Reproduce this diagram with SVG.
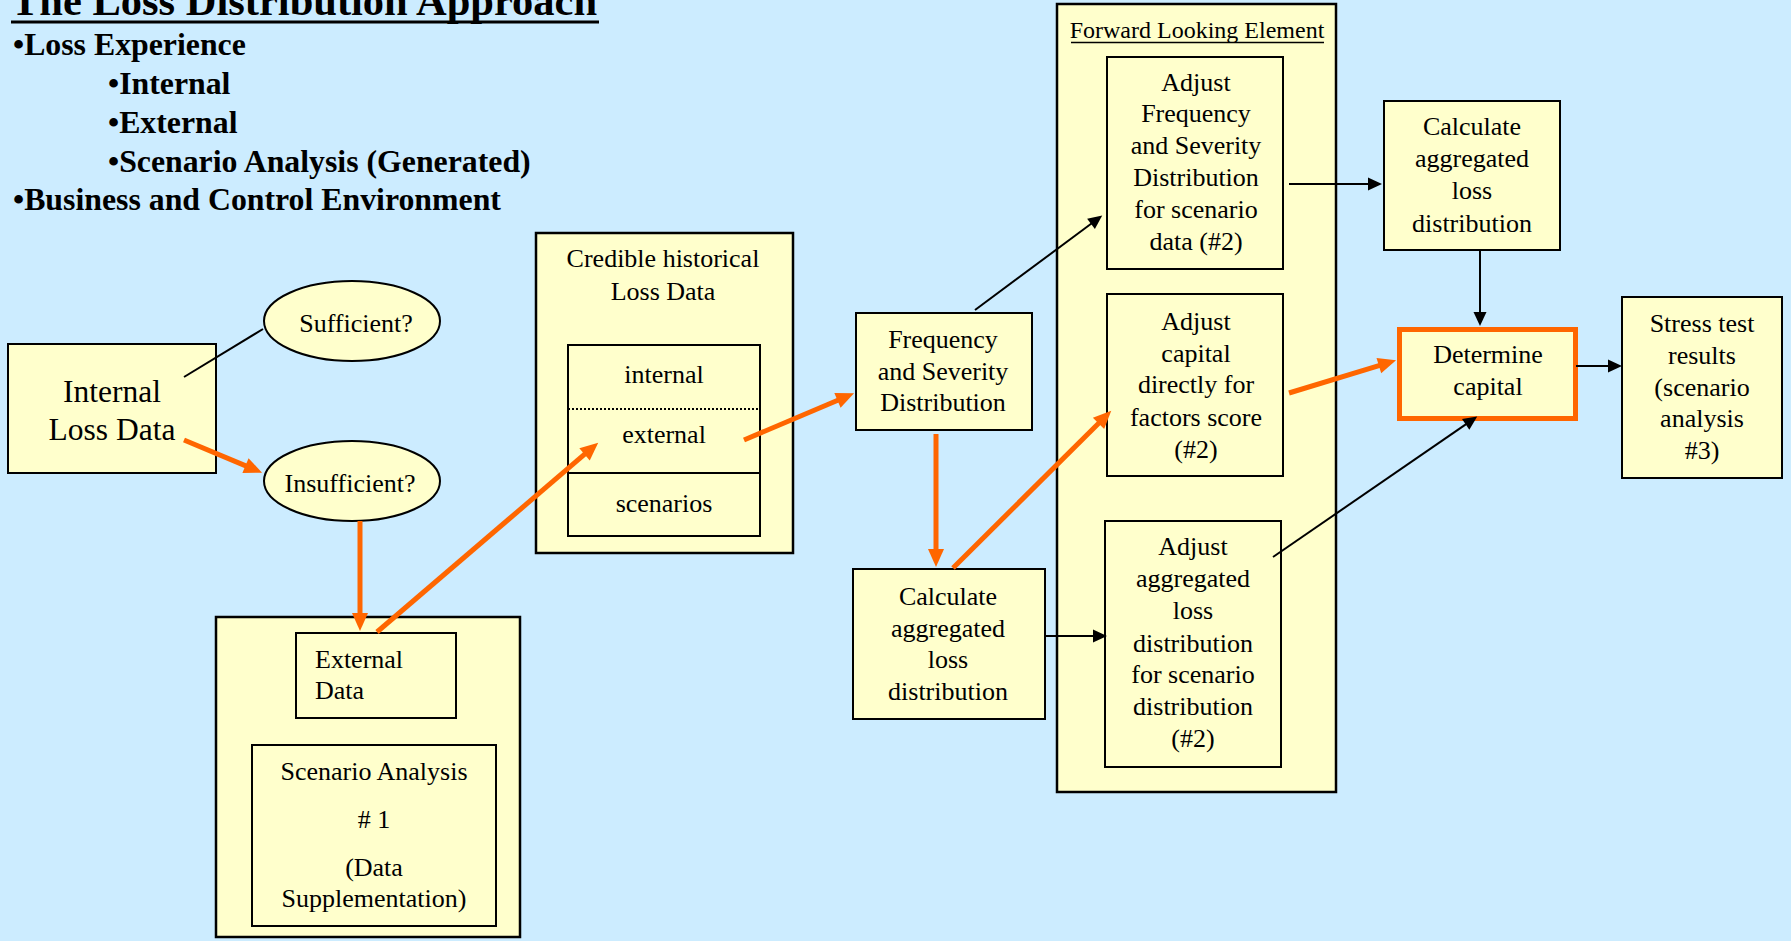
<svg xmlns="http://www.w3.org/2000/svg" width="1791" height="941" viewBox="0 0 1791 941">
  <style>
    text { font-family: "Liberation Serif", "Times New Roman", serif; fill: #000; }
    .node { fill: #FFFFCC; stroke: #000; stroke-width: 2; }
    .frame { fill: #FFFFCC; stroke: #000; stroke-width: 2.5; }
    .lbl { font-size: 26px; text-anchor: middle; }
    .bullet { font-size: 31.8px; font-weight: bold; }
    .flow { stroke: #FF6600; stroke-width: 5; fill: none; }
    .link { stroke: #000; stroke-width: 2; fill: none; }
  </style>
  <defs>
    <marker id="head-orange" markerUnits="userSpaceOnUse" markerWidth="20" markerHeight="18" viewBox="0 -9 20 18" refX="1" refY="0" orient="auto" overflow="visible">
      <path d="M0,-8 L18,0 L0,8 z" fill="#FF6600"/>
    </marker>
    <marker id="head-black" markerUnits="userSpaceOnUse" markerWidth="16" markerHeight="14" viewBox="0 -7 16 14" refX="1" refY="0" orient="auto" overflow="visible">
      <path d="M0,-6.5 L14,0 L0,6.5 z" fill="#000"/>
    </marker>
  </defs>

  <!-- page background -->
  <rect x="0" y="0" width="1791" height="941" fill="#CCECFF"/>

  <!-- heading and bullet list -->
  <g id="heading">
    <text x="11" y="15" font-size="42.5" font-weight="bold">The Loss Distribution Approach</text>
    <line x1="11" y1="22" x2="599" y2="22" stroke="#000" stroke-width="3"/>
    <text class="bullet" x="13" y="55">•Loss Experience</text>
    <text class="bullet" x="108" y="94">•Internal</text>
    <text class="bullet" x="108" y="133">•External</text>
    <text class="bullet" x="108" y="172">•Scenario Analysis (Generated)</text>
    <text class="bullet" x="13" y="210">•Business and Control Environment</text>
  </g>

  <!-- containers -->
  <g id="supplement-frame">
    <rect class="frame" x="216" y="617" width="304" height="320"/>
  </g>
  <g id="credible-data">
    <rect class="frame" x="536" y="233" width="257" height="320"/>
    <text class="lbl" x="663" y="267">Credible historical</text>
    <text class="lbl" x="663" y="300">Loss Data</text>
    <rect class="node" x="568" y="345" width="192" height="191"/>
    <line x1="568" y1="409" x2="760" y2="409" stroke="#000" stroke-width="2" stroke-dasharray="2 2"/>
    <line x1="568" y1="473" x2="760" y2="473" stroke="#000" stroke-width="2"/>
    <text class="lbl" x="664" y="383">internal</text>
    <text class="lbl" x="664" y="443">external</text>
    <text class="lbl" x="664" y="512">scenarios</text>
  </g>
  <g id="forward-looking">
    <rect class="frame" x="1057" y="4" width="279" height="788"/>
    <text x="1197" y="38" font-size="24" text-anchor="middle">Forward Looking Element</text>
    <line x1="1071" y1="42.5" x2="1324" y2="42.5" stroke="#000" stroke-width="1.5"/>
  </g>

  <!-- nodes -->
  <g id="internal-loss-data">
    <rect class="node" x="8" y="344" width="208" height="129"/>
    <text x="112" y="402" font-size="31.5" text-anchor="middle">Internal</text>
    <text x="112" y="440" font-size="31.5" text-anchor="middle">Loss Data</text>
  </g>
  <g id="sufficient">
    <ellipse class="node" cx="352" cy="321" rx="88" ry="40"/>
    <text class="lbl" x="356" y="332">Sufficient?</text>
  </g>
  <g id="insufficient">
    <ellipse class="node" cx="352" cy="481" rx="88" ry="40"/>
    <text class="lbl" x="350" y="492">Insufficient?</text>
  </g>
  <g id="external-data">
    <rect class="node" x="296" y="633" width="160" height="85"/>
    <text x="315" y="668" font-size="26">External</text>
    <text x="315" y="699" font-size="26">Data</text>
  </g>
  <g id="scenario-analysis-1">
    <rect class="node" x="252" y="745" width="244" height="181"/>
    <text class="lbl" x="374" y="780">Scenario Analysis</text>
    <text class="lbl" x="374" y="828"># 1</text>
    <text class="lbl" x="374" y="876">(Data</text>
    <text class="lbl" x="374" y="907">Supplementation)</text>
  </g>
  <g id="frequency-severity">
    <rect class="node" x="856" y="313" width="176" height="117"/>
    <text class="lbl" x="943" y="348">Frequency</text>
    <text class="lbl" x="943" y="380">and Severity</text>
    <text class="lbl" x="943" y="411">Distribution</text>
  </g>
  <g id="calc-aggregated-base">
    <rect class="node" x="853" y="569" width="192" height="150"/>
    <text class="lbl" x="948" y="605">Calculate</text>
    <text class="lbl" x="948" y="637">aggregated</text>
    <text class="lbl" x="948" y="668">loss</text>
    <text class="lbl" x="948" y="700">distribution</text>
  </g>
  <g id="adjust-frequency">
    <rect class="node" x="1107" y="57" width="176" height="212"/>
    <text class="lbl" x="1196" y="91">Adjust</text>
    <text class="lbl" x="1196" y="122">Frequency</text>
    <text class="lbl" x="1196" y="154">and Severity</text>
    <text class="lbl" x="1196" y="186">Distribution</text>
    <text class="lbl" x="1196" y="218">for scenario</text>
    <text class="lbl" x="1196" y="250">data (#2)</text>
  </g>
  <g id="adjust-capital">
    <rect class="node" x="1107" y="294" width="176" height="182"/>
    <text class="lbl" x="1196" y="330">Adjust</text>
    <text class="lbl" x="1196" y="362">capital</text>
    <text class="lbl" x="1196" y="393">directly for</text>
    <text class="lbl" x="1196" y="426">factors score</text>
    <text class="lbl" x="1196" y="458">(#2)</text>
  </g>
  <g id="adjust-aggregated">
    <rect class="node" x="1105" y="521" width="176" height="246"/>
    <text class="lbl" x="1193" y="555">Adjust</text>
    <text class="lbl" x="1193" y="587">aggregated</text>
    <text class="lbl" x="1193" y="619">loss</text>
    <text class="lbl" x="1193" y="652">distribution</text>
    <text class="lbl" x="1193" y="683">for scenario</text>
    <text class="lbl" x="1193" y="715">distribution</text>
    <text class="lbl" x="1193" y="747">(#2)</text>
  </g>
  <g id="calc-aggregated-scenario">
    <rect class="node" x="1384" y="101" width="176" height="149"/>
    <text class="lbl" x="1472" y="135">Calculate</text>
    <text class="lbl" x="1472" y="167">aggregated</text>
    <text class="lbl" x="1472" y="199">loss</text>
    <text class="lbl" x="1472" y="232">distribution</text>
  </g>
  <g id="determine-capital">
    <rect x="1399.5" y="329.5" width="176" height="89" fill="#FFFFCC" stroke="#FF6600" stroke-width="5"/>
    <text class="lbl" x="1488" y="363">Determine</text>
    <text class="lbl" x="1488" y="395">capital</text>
  </g>
  <g id="stress-test">
    <rect class="node" x="1622" y="297" width="160" height="181"/>
    <text class="lbl" x="1702" y="332">Stress test</text>
    <text class="lbl" x="1702" y="364">results</text>
    <text class="lbl" x="1702" y="396">(scenario</text>
    <text class="lbl" x="1702" y="427">analysis</text>
    <text class="lbl" x="1702" y="459">#3)</text>
  </g>

  <!-- connectors -->
  <g id="connectors">
    <line class="link" x1="184" y1="377" x2="263" y2="329"/>
    <line class="flow" x1="184" y1="440" x2="246.4" y2="466.1" marker-end="url(#head-orange)"/>
    <line class="flow" x1="360" y1="521" x2="360" y2="614" marker-end="url(#head-orange)"/>
    <line class="flow" x1="377" y1="632" x2="585.3" y2="453.7" marker-end="url(#head-orange)"/>
    <line class="flow" x1="744" y1="440" x2="838.4" y2="400" marker-end="url(#head-orange)"/>
    <line class="link" x1="975" y1="310" x2="1091.8" y2="223.3" marker-end="url(#head-black)"/>
    <line class="flow" x1="936" y1="434" x2="936" y2="550" marker-end="url(#head-orange)"/>
    <line class="flow" x1="953" y1="568" x2="1099.2" y2="422.7" marker-end="url(#head-orange)"/>
    <line class="link" x1="1045" y1="636" x2="1094" y2="636" marker-end="url(#head-black)"/>
    <line class="link" x1="1289" y1="184" x2="1369" y2="184" marker-end="url(#head-black)"/>
    <line class="link" x1="1480" y1="250" x2="1480" y2="313" marker-end="url(#head-black)"/>
    <line class="link" x1="1273" y1="557" x2="1466.5" y2="423.9" marker-end="url(#head-black)"/>
    <line class="flow" x1="1289" y1="393" x2="1379.8" y2="365.3" marker-end="url(#head-orange)"/>
    <line class="link" x1="1576" y1="366" x2="1609" y2="366" marker-end="url(#head-black)"/>
  </g>
</svg>
